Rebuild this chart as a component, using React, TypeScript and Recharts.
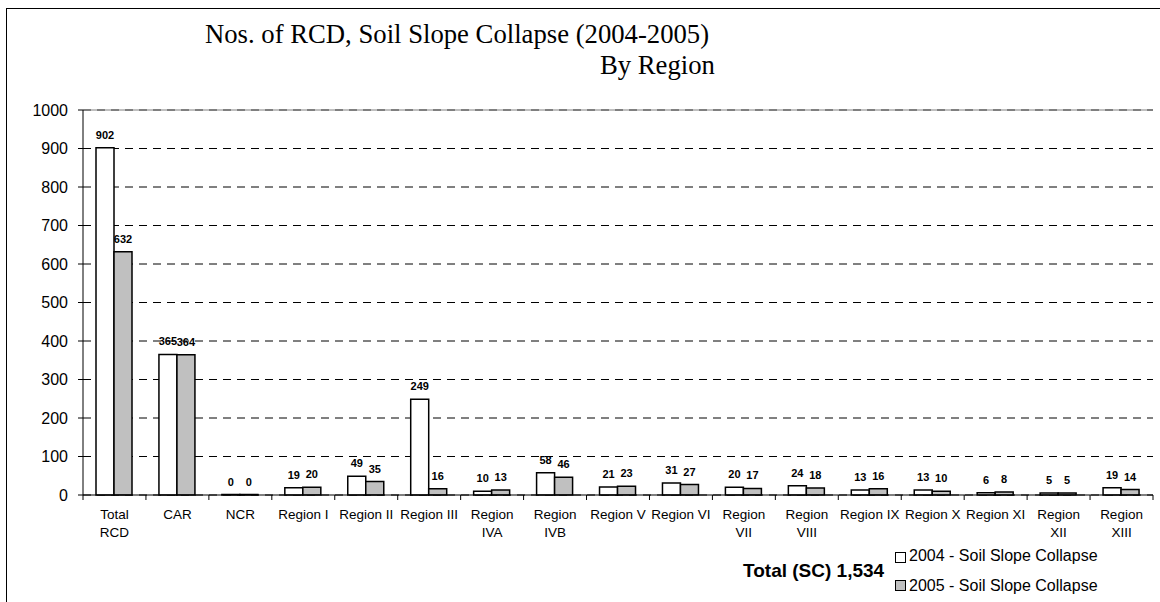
import {
  Bar,
  BarChart,
  CartesianGrid,
  LabelList,
  ReferenceLine,
  XAxis,
  YAxis,
} from "recharts";

const categories = [
  "Total\nRCD",
  "CAR",
  "NCR",
  "Region I",
  "Region II",
  "Region III",
  "Region\nIVA",
  "Region\nIVB",
  "Region V",
  "Region VI",
  "Region\nVII",
  "Region\nVIII",
  "Region IX",
  "Region X",
  "Region XI",
  "Region\nXII",
  "Region\nXIII",
];

const soil2004 = [902, 365, 0, 19, 49, 249, 10, 58, 21, 31, 20, 24, 13, 13, 6, 5, 19];
const soil2005 = [632, 364, 0, 20, 35, 16, 13, 46, 23, 27, 17, 18, 16, 10, 8, 5, 14];

const seriesNames = [
  "2004 - Soil Slope Collapse",
  "2005 - Soil Slope Collapse",
];

const yTicks = [0, 100, 200, 300, 400, 500, 600, 700, 800, 900, 1000];

const titleLine1 = "Nos. of RCD, Soil Slope Collapse (2004-2005)";
const titleLine2 = "By Region";
const totalLabel = "Total (SC) 1,534";

const W = 1160;
const H = 602;
const MARGIN = { top: 110, right: 7, bottom: 47, left: 0 };
const Y_WIDTH = 83;
const X_HEIGHT = 60;

const SANS = "'Liberation Sans', Arial, sans-serif";
const SERIF = "'Liberation Serif', 'Times New Roman', serif";

const HALF_BAND =
  (W - MARGIN.left - MARGIN.right - Y_WIDTH) / categories.length / 2;

const chartData = categories.map((name, i) => ({
  name,
  s2004: soil2004[i],
  s2005: soil2005[i],
}));

function CategoryTick(props: any) {
  const { x, y, payload, index } = props;
  const lines = String(payload.value).split("\n");

  return (
    <g>
      <line
        x1={x - HALF_BAND}
        y1={y}
        x2={x - HALF_BAND}
        y2={y + 5}
        stroke="#000"
      />
      {index === categories.length - 1 && (
        <line
          x1={x + HALF_BAND}
          y1={y}
          x2={x + HALF_BAND}
          y2={y + 5}
          stroke="#000"
        />
      )}
      <text
        x={x}
        y={y + 24}
        textAnchor="middle"
        fontSize={13.5}
        fontFamily={SANS}
        fill="#000"
      >
        {lines.map((line, i) => (
          <tspan key={i} x={x} dy={i === 0 ? 0 : 18}>
            {line}
          </tspan>
        ))}
      </text>
    </g>
  );
}

// value label, also for the zero bars (NCR)
function ValueLabel(props: any) {
  const { x, y, width, height, value } = props;
  if (x == null || y == null) return null;
  const top = Number(y) + Math.min(0, Number(height || 0));
  return (
    <text
      x={Number(x) + Number(width || 0) / 2}
      y={top - 9}
      textAnchor="middle"
      fontSize={11}
      fontWeight="bold"
      fontFamily={SANS}
      fill="#000"
    >
      {value}
    </text>
  );
}

const legendFills = ["#ffffff", "#c0c0c0"];

export default function App() {
  return (
    <div
      style={{
        position: "absolute",
        left: 0,
        top: 0,
        width: W,
        height: H,
        overflow: "hidden",
        background: "#fff",
      }}
    >
      <div
        style={{
          position: "absolute",
          left: 6,
          top: 8,
          width: W + 50,
          height: H + 50,
          borderLeft: "1px solid #000",
          borderTop: "1px solid #000",
        }}
      />

      <div
        style={{
          position: "absolute",
          left: 205,
          top: 21,
          fontFamily: SERIF,
          fontSize: 26.7,
          lineHeight: "26px",
          whiteSpace: "nowrap",
          color: "#000",
        }}
      >
        {titleLine1}
      </div>
      <div
        style={{
          position: "absolute",
          left: 600,
          top: 52,
          fontFamily: SERIF,
          fontSize: 26.7,
          lineHeight: "26px",
          whiteSpace: "nowrap",
          color: "#000",
        }}
      >
        {titleLine2}
      </div>

      <BarChart
        width={W}
        height={H}
        data={chartData}
        margin={MARGIN}
        barGap={0}
        style={{ position: "absolute", left: 0, top: 0 }}
      >
        <CartesianGrid
          vertical={false}
          stroke="#000"
          strokeDasharray="8 6"
        />

        <ReferenceLine y={1000} stroke="#808080" />

        <XAxis
          dataKey="name"
          interval={0}
          height={X_HEIGHT}
          tickSize={0}
          tickMargin={0}
          tickLine={false}
          axisLine={{ stroke: "#000" }}
          tick={<CategoryTick />}
        />

        <YAxis
          domain={[0, 1000]}
          ticks={yTicks}
          width={Y_WIDTH}
          tickSize={5}
          tickMargin={10}
          interval={0}
          axisLine={{ stroke: "#000" }}
          tickLine={{ stroke: "#000" }}
          tick={{
            fill: "#000",
            fontSize: 16,
            fontFamily: SANS,
          }}
        />

        <YAxis
          yAxisId="edge"
          orientation="right"
          width={0}
          tick={false}
          tickLine={false}
          axisLine={{ stroke: "#808080" }}
        />

        <Bar
          dataKey="s2004"
          name={seriesNames[0]}
          fill="#ffffff"
          stroke="#000"
          strokeWidth={1.5}
          barSize={18}
          minPointSize={0.5}
          isAnimationActive={false}
        >
          <LabelList dataKey="s2004" content={<ValueLabel />} />
        </Bar>

        <Bar
          dataKey="s2005"
          name={seriesNames[1]}
          fill="#c0c0c0"
          stroke="#000"
          strokeWidth={1.5}
          barSize={18}
          minPointSize={0.5}
          isAnimationActive={false}
        >
          <LabelList dataKey="s2005" content={<ValueLabel />} />
        </Bar>
      </BarChart>

      <div
        style={{
          position: "absolute",
          left: 743,
          top: 561,
          fontFamily: SANS,
          fontSize: 19,
          lineHeight: "19px",
          fontWeight: "bold",
          whiteSpace: "nowrap",
          color: "#000",
        }}
      >
        {totalLabel}
      </div>

      {seriesNames.map((name, i) => (
        <div key={name}>
          <div
            style={{
              position: "absolute",
              left: 895,
              top: 552 + i * 28,
              width: 9,
              height: 9,
              border: "1px solid #000",
              background: legendFills[i],
            }}
          />
          <div
            style={{
              position: "absolute",
              left: 909,
              top: 548 + i * 30,
              fontFamily: SANS,
              fontSize: 16,
              lineHeight: "16px",
              whiteSpace: "nowrap",
              color: "#000",
            }}
          >
            {name}
          </div>
        </div>
      ))}
    </div>
  );
}
